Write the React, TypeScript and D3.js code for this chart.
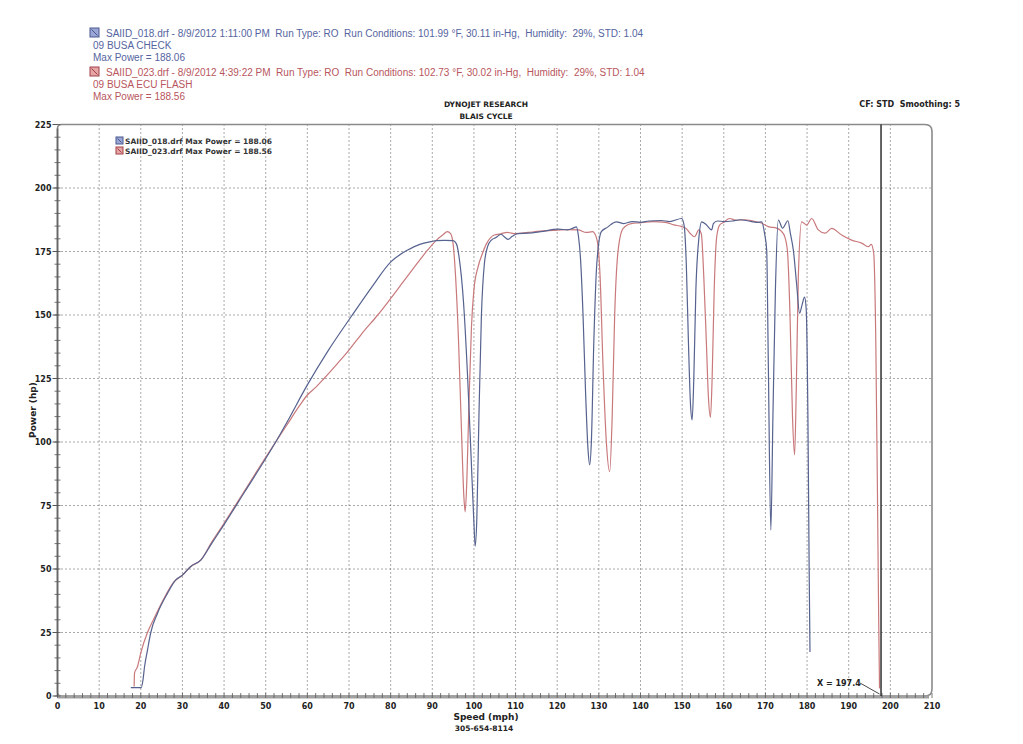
import React from "react";
import * as d3 from "d3";

// ---------- data ----------
const xTicks = [0, 10, 20, 30, 40, 50, 60, 70, 80, 90, 100, 110, 120, 130, 140, 150, 160, 170, 180, 190, 200, 210];
const yTicks = [0, 25, 50, 75, 100, 125, 150, 175, 200, 225];

// SAIID_018 (blue) speed (mph)
const blueSpeed = [
  17.6, 20.1, 20.5, 20.9, 21.6, 22.4, 24, 26.4, 28.4, 30, 32, 34.4, 37, 40, 45, 50, 52.4, 55, 60, 65, 70.5, 75.3, 80.1, 84.1, 87, 89.7, 91, 93, 95,
  95.8, 96.5, 97.5, 98.5, 99.3, 100, 100.3, 100.7, 101.2, 101.8, 102.5, 103.3, 104.2, 105.3, 106.5, 107.5, 108.2, 109.2, 110.5, 113, 116, 120.3,
  122.5, 123.8, 124.6, 125.1, 125.6, 126.2, 126.8, 127.4, 127.8, 128.2, 128.8, 129.5, 130.6, 132, 134.2, 136, 138, 140, 142, 145, 147, 149.9,
  150.5, 151, 151.5, 152, 152.4, 152.8, 153.3, 154, 154.7, 155.8, 157.1, 157.5, 158.5, 160, 162, 164, 166, 168, 169.1, 169.8, 170.3, 170.7,
  171.3, 171.8, 172.4, 173.1, 174.1, 175.4, 176, 176.7, 177.5, 178.2, 178.8, 179.4, 179.8, 180.2, 180.5, 180.7,
];
// SAIID_018 (blue) power (hp)
const bluePower = [
  3.3, 3.3, 6, 11.5, 18, 25, 32.5, 40.4, 45.7, 47.6, 51, 53.5, 60, 67.5, 80.5, 93.5, 100, 107.5, 122.5, 136, 149.3, 160.6, 171, 175.6, 177.8, 178.9, 179.3, 179.4, 179.3,
  178, 172, 155, 125, 95, 68, 59, 70, 110, 150, 170, 177, 179.5, 180.5, 181.8, 180.5, 179.8, 181, 182, 182.2, 182.8, 183.8,
  183.5, 184.2, 184.7, 181, 172, 150, 120, 97, 91, 100, 140, 170, 182.8, 184.5, 186.7, 186, 186.8, 186.5, 187, 187.2, 186.8, 188,
  185, 170, 140, 115, 108.7, 125, 160, 180, 186.7, 185.5, 183.5, 186, 187, 186.8, 187, 187.5, 187, 186.5, 186.7, 182, 175.6, 130,
  65.4, 110, 160, 187.4, 184.2, 187.1, 182, 175.6, 162, 150.7, 154, 157, 152, 110, 50, 17.3,
];

// SAIID_023 (red) speed (mph)
const redSpeed = [
  18.4, 18.5, 19.2, 20, 21.6, 23.2, 25.6, 28, 30, 32, 34.4, 37, 40, 45, 50, 52.4, 55, 58, 60, 62, 64, 67, 70, 73, 76.9, 80, 83, 86, 88.9, 91,
  92.5, 93.6, 94.4, 95, 95.6, 96.3, 97, 97.6, 97.9, 98.3, 98.8, 99.4, 100, 101, 102, 103, 104.9, 106.5, 108, 110, 113, 116, 119, 122, 125,
  127, 128.5, 129.5, 130.3, 131, 131.8, 132.6, 133.2, 133.8, 134.6, 135.8, 137.8, 140, 143, 146, 148, 149.9, 151, 152, 153, 154, 154.6,
  155.2, 155.8, 156.3, 156.8, 157.2, 157.7, 158.3, 159, 160, 161.4, 163, 165, 167, 169, 170.7, 172.7, 173.8, 174.6, 175.3, 175.9, 176.5,
  177, 177.4, 177.9, 178.7, 179.9, 181.1, 182.7, 184.3, 185.9, 188.3, 190.7, 193.1, 194.7, 195.4, 196, 196.5, 196.9, 197.2, 197.4,
];
// SAIID_023 (red) power (hp)
const redPower = [
  3.7, 9, 11.5, 17, 25, 30.6, 38.5, 45, 47.6, 51, 53.5, 60.5, 68, 81, 94, 100, 106.5, 114, 118.5, 121.5, 125, 130.5, 136.2, 142.5, 150, 156.5, 163, 169.5, 175.6, 179.5,
  181.5, 182.8, 182, 178, 165, 140, 105, 78, 72.5, 85, 115, 145, 160, 169, 174, 178, 181.5, 182, 182.5, 182, 182.5, 183, 183.3, 183.6, 183.5,
  182.5, 182.8, 180, 165, 130, 100, 88.3, 110, 150, 175, 184, 186, 186.3, 186.8, 186.5, 185.5, 184.8, 184, 182, 180.8, 183.5, 182,
  165, 140, 118, 109.7, 125, 160, 180.8, 185.4, 186.5, 188, 187.3, 187.5, 187, 186.2, 184.8, 184.2, 183, 181, 175, 150, 110,
  94.9, 120, 165, 186.7, 185.4, 188, 183.5, 182.2, 184.1, 181.5, 179.5, 178.3, 176.9, 177.8, 174.3, 140, 80, 30, 3,
];

const cursorX = 197.4;

const headerBlue = [
  "SAIID_018.drf - 8/9/2012 1:11:00 PM  Run Type: RO  Run Conditions: 101.99 °F, 30.11 in-Hg,  Humidity:  29%, STD: 1.04",
  "09 BUSA CHECK",
  "Max Power = 188.06",
];
const headerRed = [
  "SAIID_023.drf - 8/9/2012 4:39:22 PM  Run Type: RO  Run Conditions: 102.73 °F, 30.02 in-Hg,  Humidity:  29%, STD: 1.04",
  "09 BUSA ECU FLASH",
  "Max Power = 188.56",
];
const legendLabels = ["SAIID_018.drf Max Power = 188.06", "SAIID_023.drf Max Power = 188.56"];

// ---------- layout ----------
const W = 1023;
const H = 744;
const L = 57.5;
const R = 932;
const T = 124.5;
const B = 696;

const BLUE = "#56628f";
const RED = "#c9797c";
const BLUE_TXT = "#5565a0";
const RED_TXT = "#b8565d";

const x = d3.scaleLinear().domain([0, 210]).range([L, R]);
const y = d3.scaleLinear().domain([0, 225]).range([B, T]);

const lineGen = d3
  .line<[number, number]>()
  .x((d) => x(d[0]))
  .y((d) => y(d[1]))
  .curve(d3.curveMonotoneX);

const bluePts: [number, number][] = blueSpeed.map((s, i) => [s, bluePower[i]]);
const redPts: [number, number][] = redSpeed.map((s, i) => [s, redPower[i]]);

const boldFont = "'DejaVu Sans', Verdana, sans-serif";
const sansFont = "'Liberation Sans', Arial, sans-serif";
const pre = { whiteSpace: "pre" as const };

function Icon({ xPos, yPos, fill, stroke, size }: { xPos: number; yPos: number; fill: string; stroke: string; size: number }) {
  return (
    <g>
      <rect x={xPos} y={yPos} width={size} height={size} fill={fill} stroke={stroke} strokeWidth={1} />
      <line x1={xPos + 1.5} y1={yPos + 1.5} x2={xPos + size - 1.5} y2={yPos + size - 1.5} stroke={stroke} strokeWidth={1} />
    </g>
  );
}

export default function App() {
  const xMinor = d3.range(0, 211, 2);
  const yMinor = d3.range(0, 226, 5);
  const rr = 7;
  const framePath = `M${L},${T + 4} Q${L},${T} ${L + 4},${T} L${R - rr},${T} Q${R},${T} ${R},${T + rr} L${R},${B - rr} Q${R},${B} ${R - rr},${B} L${L + 4},${B} Q${L},${B} ${L},${B - 4} Z`;

  return (
    <svg width={W} height={H} style={{ position: "absolute", left: 0, top: 0, background: "#fff" }}>
      {/* header */}
      <Icon xPos={90} yPos={28} fill="#9aa6d6" stroke="#4a5890" size={9} />
      {headerBlue.map((t, i) => (
        <text key={"hb" + i} x={i === 0 ? 106 : 93} y={37 + i * 12} fontFamily={sansFont} fontSize={10} fill={BLUE_TXT} style={pre}>
          {t}
        </text>
      ))}
      <Icon xPos={90} yPos={67} fill="#e6a4a4" stroke="#a04048" size={9} />
      {headerRed.map((t, i) => (
        <text key={"hr" + i} x={i === 0 ? 106 : 93} y={76 + i * 12} fontFamily={sansFont} fontSize={10} fill={RED_TXT} style={pre}>
          {t}
        </text>
      ))}

      <text x={486} y={107} textAnchor="middle" fontFamily={boldFont} fontWeight="bold" fontSize={7.5} fill="#222">
        DYNOJET RESEARCH
      </text>
      <text x={486} y={119} textAnchor="middle" fontFamily={boldFont} fontWeight="bold" fontSize={7.5} fill="#222">
        BLAIS CYCLE
      </text>
      <text x={960} y={107} textAnchor="end" fontFamily={boldFont} fontWeight="bold" fontSize={8} fill="#222" style={pre}>
        CF: STD  Smoothing: 5
      </text>

      {/* grid */}
      {xTicks
        .filter((v) => v > 0 && v < 210)
        .map((v) => (
          <line key={"gx" + v} x1={x(v)} x2={x(v)} y1={T} y2={B} stroke="#555" strokeWidth={1} strokeDasharray="1,3" />
        ))}
      {yTicks
        .filter((v) => v > 0 && v < 225)
        .map((v) => (
          <line key={"gy" + v} x1={L} x2={R} y1={y(v)} y2={y(v)} stroke="#555" strokeWidth={1} strokeDasharray="1,3" />
        ))}

      {/* frame */}
      <path d={framePath} fill="none" stroke="#8a8a8a" strokeWidth={1.6} />
      <line x1={L} x2={R - 3} y1={B + 1} y2={B + 1} stroke="#a0a0a0" strokeWidth={3} />
      <line x1={L} x2={L} y1={T + 4} y2={B} stroke="#666" strokeWidth={1.6} />

      {/* minor ticks */}
      {xMinor.map((v) => (
        <line key={"mx" + v} x1={x(v)} x2={x(v)} y1={B - 3} y2={B + 2} stroke="#555" strokeWidth={0.8} />
      ))}
      {yMinor.map((v) => (
        <line key={"my" + v} x1={L - 3} x2={L + 3} y1={y(v)} y2={y(v)} stroke="#555" strokeWidth={0.8} />
      ))}
      {yTicks.map((v) => (
        <line key={"ty" + v} x1={L - 5} x2={L} y1={y(v)} y2={y(v)} stroke="#555" strokeWidth={1} />
      ))}

      {/* tick labels */}
      {yTicks.map((v) => (
        <text key={"ly" + v} x={L - 6} y={y(v) + 3} textAnchor="end" fontFamily={boldFont} fontWeight="bold" fontSize={8} fill="#222">
          {v}
        </text>
      ))}
      {xTicks.map((v) => (
        <text key={"lx" + v} x={x(v)} y={709} textAnchor="middle" fontFamily={boldFont} fontWeight="bold" fontSize={8} fill="#222">
          {v}
        </text>
      ))}

      {/* axis titles */}
      <text
        transform={`translate(36,${410}) rotate(-90)`}
        textAnchor="middle"
        fontFamily={boldFont}
        fontWeight="bold"
        fontSize={9}
        fill="#222"
      >
        Power (hp)
      </text>
      <text x={486} y={720} textAnchor="middle" fontFamily={boldFont} fontWeight="bold" fontSize={9} fill="#222">
        Speed (mph)
      </text>
      <text x={484} y={731} textAnchor="middle" fontFamily={boldFont} fontWeight="bold" fontSize={7.5} fill="#222">
        305-654-8114
      </text>

      {/* legend */}
      <Icon xPos={116} yPos={137} fill="#9aa6d6" stroke="#4a5890" size={7} />
      <text x={125} y={144} fontFamily={boldFont} fontWeight="bold" fontSize={7.5} fill="#333">
        {legendLabels[0]}
      </text>
      <Icon xPos={116} yPos={147} fill="#e6a4a4" stroke="#a04048" size={7} />
      <text x={125} y={154} fontFamily={boldFont} fontWeight="bold" fontSize={7.5} fill="#333">
        {legendLabels[1]}
      </text>

      {/* curves */}
      <path d={lineGen(redPts) || ""} fill="none" stroke={RED} strokeWidth={1.2} />
      <path d={lineGen(bluePts) || ""} fill="none" stroke={BLUE} strokeWidth={1.2} />

      {/* cursor */}
      <line x1={x(cursorX) + 1.5} x2={x(cursorX) + 1.5} y1={T} y2={B} stroke="#222" strokeWidth={1.4} />
      <text x={817} y={686} fontFamily={boldFont} fontWeight="bold" fontSize={8} fill="#222">
        X = 197.4
      </text>
      <line x1={860} y1={683} x2={x(cursorX)} y2={694} stroke="#333" strokeWidth={0.9} />
    </svg>
  );
}
